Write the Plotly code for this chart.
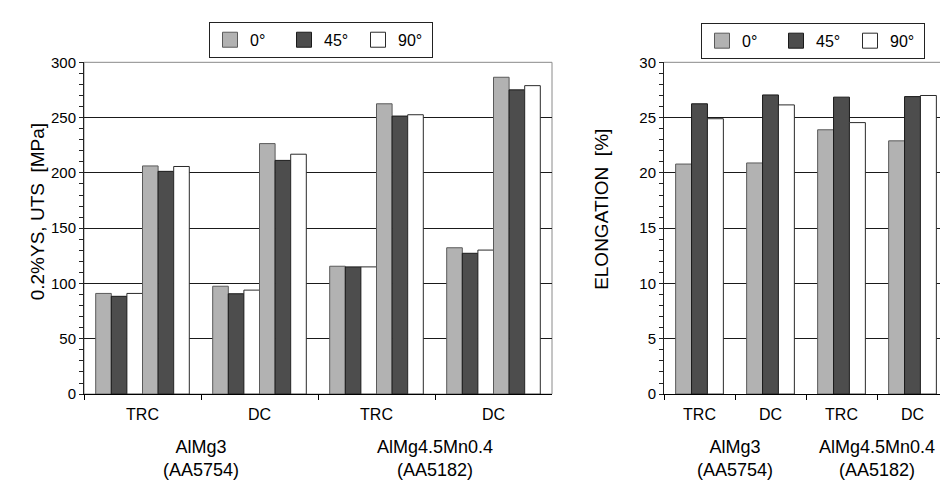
import plotly.graph_objects as go

# ---------------- data ----------------
angles = ["0°", "45°", "90°"]
categories = ["AlMg3 TRC", "AlMg3 DC", "AlMg4.5Mn0.4 TRC", "AlMg4.5Mn0.4 DC"]
process_labels = ["TRC", "DC", "TRC", "DC"]
alloy_labels = ["AlMg3<br>(AA5754)", "AlMg4.5Mn0.4<br>(AA5182)"]

ys_0 = [91, 97.5, 115.6, 132.3]
ys_45 = [88.4, 90.7, 115, 127.3]
ys_90 = [91, 94, 115, 130.2]
uts_0 = [206.3, 226.5, 262.5, 286.5]
uts_45 = [201.4, 211.3, 251.4, 275.1]
uts_90 = [205.8, 216.9, 252.6, 278.9]

el_0 = [20.8, 20.9, 23.9, 22.9]
el_45 = [26.25, 27.05, 26.85, 26.9]
el_90 = [24.9, 26.15, 24.55, 27.0]

# ---------------- styles ----------------
FONT = "Liberation Sans, Arial, sans-serif"
fills = ["#b2b2b2", "#4d4d4d", "#ffffff"]
edges = ["#5a5a5a", "#1a1a1a", "#2a2a2a"]

# the page body has an 8 px margin: the figure is drawn 8 px in from the window edge
OFF = 8
W, H = 948 - OFF, 485 - OFF


def px_x(v):
    return (v - OFF) / W


def px_y(v):
    return 1 - (v - OFF) / H


fig = go.Figure()

ys_series = [ys_0, ys_45, ys_90]
uts_series = [uts_0, uts_45, uts_90]
for i, (name, vals) in enumerate(zip(angles, ys_series)):
    fig.add_trace(go.Bar(x=categories, y=vals, name=name + " YS",
                         marker=dict(color=fills[i], line=dict(color=edges[i], width=1)),
                         xaxis="x", yaxis="y", showlegend=False, hoverinfo="x+y"))
for i, (name, vals) in enumerate(zip(angles, uts_series)):
    fig.add_trace(go.Bar(x=categories, y=vals, name=name + " UTS",
                         marker=dict(color=fills[i], line=dict(color=edges[i], width=1)),
                         xaxis="x", yaxis="y", showlegend=False, hoverinfo="x+y"))

el_series = [el_0, el_45, el_90]
bw = 0.224
for i, (name, vals) in enumerate(zip(angles, el_series)):
    fig.add_trace(go.Bar(x=categories, y=vals, name=name,
                         width=bw, offset=-1.5 * bw + i * bw,
                         marker=dict(color=fills[i], line=dict(color=edges[i], width=1)),
                         xaxis="x2", yaxis="y2", showlegend=False, hoverinfo="x+y"))

# legend keys (square swatches) for both panels
for lg, xa, ya in [("legend", "x", "y"), ("legend2", "x2", "y2")]:
    for i, name in enumerate(angles):
        fig.add_trace(go.Scatter(x=[None], y=[None], mode="markers", name=name,
                                 marker=dict(symbol="square", size=15, color=fills[i],
                                             line=dict(color=edges[i], width=1)),
                                 xaxis=xa, yaxis=ya, legend=lg, showlegend=True,
                                 hoverinfo="skip"))

left_x = (px_x(84), px_x(552))
right_x = (px_x(664), 1.0)
ydom = (px_y(399), px_y(55))

tickfont = dict(family=FONT, size=15, color="#000")

xcommon = dict(type="category", categoryorder="array", categoryarray=categories,
               tickmode="array", tickvals=categories, ticktext=process_labels,
               tickson="boundaries", ticks="outside", ticklen=5, tickcolor="#000",
               showline=True, linecolor="#000", linewidth=1, showgrid=False,
               tickfont=dict(family=FONT, size=16, color="#000"),
               ticklabelstandoff=6, zeroline=False, fixedrange=True)

ycommon = dict(showline=True, linecolor="#222", linewidth=1, ticks="outside", ticklen=4,
               tickcolor="#222", showgrid=True, gridcolor="#1a1a1a", gridwidth=1,
               zeroline=False, tickfont=tickfont, fixedrange=True)

legend_common = dict(orientation="h", xanchor="left", yanchor="top",
                     bordercolor="#222", borderwidth=1, bgcolor="white",
                     font=dict(family=FONT, size=16, color="#000"),
                     entrywidth=29, entrywidthmode="pixels", traceorder="normal")

fig.update_layout(
    width=W, height=H,
    margin=dict(l=0, r=0, t=0, b=0),
    paper_bgcolor="white", plot_bgcolor="white",
    barmode="group", bargap=0.2, bargroupgap=0,
    font=dict(family=FONT, color="#000"),
    xaxis=dict(domain=left_x, anchor="y", **xcommon),
    yaxis=dict(domain=ydom, anchor="x", range=[0, 300], dtick=50,
               minor=dict(dtick=10, ticks="outside", ticklen=4, tickcolor="#222", showgrid=False),
               **ycommon),
    xaxis2=dict(domain=right_x, anchor="y2", **xcommon),
    yaxis2=dict(domain=ydom, anchor="x2", range=[0, 30], dtick=5,
                minor=dict(dtick=1, ticks="outside", ticklen=4, tickcolor="#222", showgrid=False),
                **ycommon),
    legend=dict(x=px_x(209), y=px_y(13), **legend_common),
    legend2=dict(x=px_x(701), y=px_y(14), **legend_common),
    showlegend=True,
)

# plot frames (gray top/right border)
fig.add_shape(type="rect", xref="x domain", yref="y domain", x0=0, x1=1, y0=0, y1=1,
              line=dict(color="#8a8a8a", width=1), layer="below")
fig.add_shape(type="line", xref="x2 domain", yref="y2 domain", x0=0, x1=1, y0=1, y1=1,
              line=dict(color="#8a8a8a", width=1), layer="below")

# axis titles
fig.add_annotation(text="0.2%YS, UTS  [MPa]", xref="paper", yref="paper",
                   x=px_x(25), y=px_y(210), textangle=-90, showarrow=False,
                   font=dict(family=FONT, size=19, color="#000"))
fig.add_annotation(text="ELONGATION  [%]", xref="paper", yref="paper",
                   x=px_x(602), y=px_y(208), textangle=-90, showarrow=False,
                   font=dict(family=FONT, size=19, color="#000"))

# alloy group labels
for xr in ["x", "x2"]:
    for j, lab in enumerate(alloy_labels):
        fig.add_annotation(text=lab, xref=xr, yref="paper", x=0.5 + 2 * j, y=px_y(465.5),
                           showarrow=False, yanchor="middle",
                           font=dict(family=FONT, size=18, color="#000"))

fig.write_html("out.html")
